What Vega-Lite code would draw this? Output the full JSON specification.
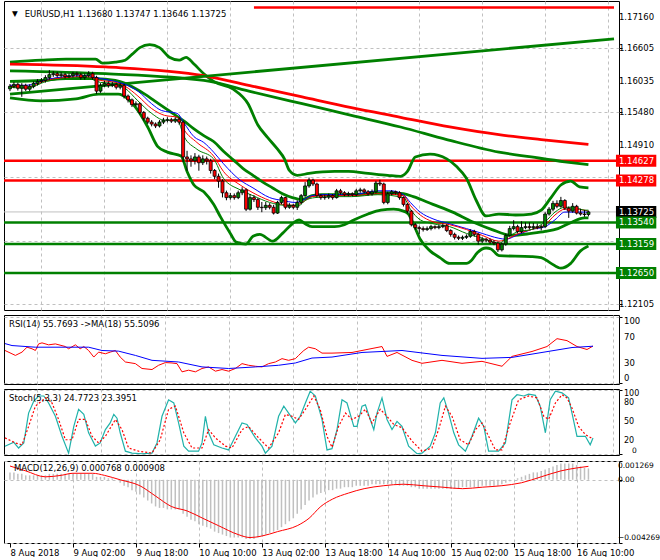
{
"$schema":"https://vega.github.io/schema/vega-lite/v6.json",
"background":"white",
"padding":{"left":2,"top":0,"right":0,"bottom":0},
"spacing":3,
"config":{
 "view":{"stroke":"#000000","strokeWidth":1},
 "axis":{"labelFont":"DejaVu Sans","labelFontSize":8.5,"labelColor":"#000000","gridColor":"#c0c0c0","gridDash":[3,3],"gridWidth":1,"tickColor":"#000000","tickSize":3,"labelPadding":3,"domain":false,"labelOverlap":false},
 "text":{"font":"DejaVu Sans","fontSize":8.5}
},
"datasets":{
 "c":[
{"i":0,"o":1.1589,"h":1.15975,"l":1.1585,"c":1.15935,"m":0.0005},
{"i":1,"o":1.15935,"h":1.1601,"l":1.159,"c":1.15969,"m":0.0005},
{"i":2,"o":1.15969,"h":1.16,"l":1.1586,"c":1.15901,"m":0.0004},
{"i":3,"o":1.15901,"h":1.1599,"l":1.1575,"c":1.15952,"m":0.0004},
{"i":4,"o":1.15952,"h":1.1598,"l":1.1585,"c":1.15884,"m":0.0003},
{"i":5,"o":1.15884,"h":1.1597,"l":1.1585,"c":1.15935,"m":0.0003},
{"i":6,"o":1.15935,"h":1.1602,"l":1.159,"c":1.15986,"m":0.0003},
{"i":7,"o":1.15986,"h":1.1606,"l":1.1595,"c":1.1602,"m":0.0003},
{"i":8,"o":1.1602,"h":1.1608,"l":1.1599,"c":1.16037,"m":0.0003},
{"i":9,"o":1.16037,"h":1.1613,"l":1.16,"c":1.16088,"m":0.0003},
{"i":10,"o":1.16088,"h":1.1622,"l":1.1605,"c":1.16139,"m":0.0004},
{"i":11,"o":1.16139,"h":1.162,"l":1.161,"c":1.16156,"m":0.0004},
{"i":12,"o":1.16156,"h":1.1619,"l":1.1609,"c":1.16122,"m":0.0004},
{"i":13,"o":1.16122,"h":1.1618,"l":1.1609,"c":1.16139,"m":0.0004},
{"i":14,"o":1.16139,"h":1.1617,"l":1.1607,"c":1.16105,"m":0.0004},
{"i":15,"o":1.16105,"h":1.1616,"l":1.1608,"c":1.16122,"m":0.0004},
{"i":16,"o":1.16122,"h":1.1619,"l":1.1609,"c":1.16156,"m":0.0004},
{"i":17,"o":1.16156,"h":1.1619,"l":1.161,"c":1.16139,"m":0.0004},
{"i":18,"o":1.16139,"h":1.1617,"l":1.1605,"c":1.16088,"m":0.0004},
{"i":19,"o":1.16088,"h":1.1616,"l":1.1605,"c":1.16122,"m":0.0004},
{"i":20,"o":1.16122,"h":1.162,"l":1.1609,"c":1.16156,"m":0.0004},
{"i":21,"o":1.16156,"h":1.1619,"l":1.1605,"c":1.16088,"m":0.0004},
{"i":22,"o":1.16088,"h":1.1612,"l":1.158,"c":1.1585,"m":0.0002},
{"i":23,"o":1.1585,"h":1.1599,"l":1.1582,"c":1.15952,"m":0.0002},
{"i":24,"o":1.15952,"h":1.1603,"l":1.1592,"c":1.15986,"m":0.0002},
{"i":25,"o":1.15986,"h":1.1602,"l":1.1591,"c":1.15952,"m":0.0001},
{"i":26,"o":1.15952,"h":1.1601,"l":1.1592,"c":1.15969,"m":0.0001},
{"i":27,"o":1.15969,"h":1.16,"l":1.1588,"c":1.15918,"m":0},
{"i":28,"o":1.15918,"h":1.1599,"l":1.1588,"c":1.15952,"m":-0.0002},
{"i":29,"o":1.15952,"h":1.1598,"l":1.1572,"c":1.15764,"m":-0.0004},
{"i":30,"o":1.15764,"h":1.1579,"l":1.1565,"c":1.15696,"m":-0.0005},
{"i":31,"o":1.15696,"h":1.1572,"l":1.1557,"c":1.15611,"m":-0.0007},
{"i":32,"o":1.15611,"h":1.1567,"l":1.1558,"c":1.15628,"m":-0.0008},
{"i":33,"o":1.15628,"h":1.1565,"l":1.1544,"c":1.15475,"m":-0.001},
{"i":34,"o":1.15475,"h":1.155,"l":1.1533,"c":1.15373,"m":-0.0012},
{"i":35,"o":1.15373,"h":1.154,"l":1.1527,"c":1.15305,"m":-0.0014},
{"i":36,"o":1.15305,"h":1.1534,"l":1.1523,"c":1.15271,"m":-0.0016},
{"i":37,"o":1.15271,"h":1.153,"l":1.152,"c":1.15237,"m":-0.0018},
{"i":38,"o":1.15237,"h":1.1534,"l":1.1521,"c":1.15305,"m":-0.0019},
{"i":39,"o":1.15305,"h":1.1538,"l":1.1527,"c":1.15339,"m":-0.0019},
{"i":40,"o":1.15339,"h":1.1539,"l":1.153,"c":1.15345,"m":-0.002},
{"i":41,"o":1.15345,"h":1.1538,"l":1.1529,"c":1.15322,"m":-0.002},
{"i":42,"o":1.15322,"h":1.1539,"l":1.1529,"c":1.15356,"m":-0.002},
{"i":43,"o":1.15356,"h":1.1539,"l":1.1526,"c":1.15305,"m":-0.002},
{"i":44,"o":1.15305,"h":1.1533,"l":1.146,"c":1.14692,"m":-0.0023},
{"i":45,"o":1.14692,"h":1.148,"l":1.1445,"c":1.14658,"m":-0.0025},
{"i":46,"o":1.14658,"h":1.1472,"l":1.1452,"c":1.14624,"m":-0.0027},
{"i":47,"o":1.14624,"h":1.1476,"l":1.1456,"c":1.14692,"m":-0.0028},
{"i":48,"o":1.14692,"h":1.1473,"l":1.1445,"c":1.1459,"m":-0.003},
{"i":49,"o":1.1459,"h":1.1472,"l":1.1455,"c":1.14658,"m":-0.0031},
{"i":50,"o":1.14658,"h":1.147,"l":1.1456,"c":1.14624,"m":-0.0032},
{"i":51,"o":1.14624,"h":1.1466,"l":1.144,"c":1.14454,"m":-0.0033},
{"i":52,"o":1.14454,"h":1.1448,"l":1.143,"c":1.14352,"m":-0.0035},
{"i":53,"o":1.14352,"h":1.144,"l":1.1415,"c":1.14267,"m":-0.0036},
{"i":54,"o":1.14267,"h":1.143,"l":1.1398,"c":1.14062,"m":-0.0037},
{"i":55,"o":1.14062,"h":1.141,"l":1.1393,"c":1.13977,"m":-0.0038},
{"i":56,"o":1.13977,"h":1.1406,"l":1.1394,"c":1.14011,"m":-0.0039},
{"i":57,"o":1.14011,"h":1.1405,"l":1.1394,"c":1.13977,"m":-0.0039},
{"i":58,"o":1.13977,"h":1.141,"l":1.1395,"c":1.14062,"m":-0.0039},
{"i":59,"o":1.14062,"h":1.1416,"l":1.1402,"c":1.14113,"m":-0.0039},
{"i":60,"o":1.14113,"h":1.1414,"l":1.1374,"c":1.13773,"m":-0.004},
{"i":61,"o":1.13773,"h":1.1404,"l":1.1375,"c":1.13977,"m":-0.004},
{"i":62,"o":1.13977,"h":1.1402,"l":1.139,"c":1.13943,"m":-0.004},
{"i":63,"o":1.13943,"h":1.1397,"l":1.1376,"c":1.13807,"m":-0.0039},
{"i":64,"o":1.13807,"h":1.139,"l":1.1372,"c":1.138,"m":-0.0038},
{"i":65,"o":1.138,"h":1.139,"l":1.1376,"c":1.13841,"m":-0.0037},
{"i":66,"o":1.13841,"h":1.1388,"l":1.1377,"c":1.13807,"m":-0.0036},
{"i":67,"o":1.13807,"h":1.1385,"l":1.1368,"c":1.13705,"m":-0.0035},
{"i":68,"o":1.13705,"h":1.1392,"l":1.1369,"c":1.13892,"m":-0.0034},
{"i":69,"o":1.13892,"h":1.1401,"l":1.1386,"c":1.13977,"m":-0.0032},
{"i":70,"o":1.13977,"h":1.1399,"l":1.1377,"c":1.13807,"m":-0.003},
{"i":71,"o":1.13807,"h":1.1388,"l":1.1378,"c":1.13841,"m":-0.0028},
{"i":72,"o":1.13841,"h":1.1387,"l":1.1377,"c":1.13807,"m":-0.0026},
{"i":73,"o":1.13807,"h":1.1393,"l":1.1376,"c":1.13892,"m":-0.0023},
{"i":74,"o":1.13892,"h":1.1404,"l":1.1386,"c":1.14011,"m":-0.002},
{"i":75,"o":1.14011,"h":1.1425,"l":1.1399,"c":1.14182,"m":-0.0017},
{"i":76,"o":1.14182,"h":1.1433,"l":1.1415,"c":1.14284,"m":-0.0014},
{"i":77,"o":1.14284,"h":1.1431,"l":1.1418,"c":1.14216,"m":-0.0012},
{"i":78,"o":1.14216,"h":1.1424,"l":1.1398,"c":1.14011,"m":-0.001},
{"i":79,"o":1.14011,"h":1.1404,"l":1.1394,"c":1.13977,"m":-0.0009},
{"i":80,"o":1.13977,"h":1.1403,"l":1.1394,"c":1.13985,"m":-0.0008},
{"i":81,"o":1.13985,"h":1.1405,"l":1.1395,"c":1.14011,"m":-0.0007},
{"i":82,"o":1.14011,"h":1.1404,"l":1.1394,"c":1.13977,"m":-0.0007},
{"i":83,"o":1.13977,"h":1.1413,"l":1.1396,"c":1.14096,"m":-0.0006},
{"i":84,"o":1.14096,"h":1.1413,"l":1.1403,"c":1.14062,"m":-0.0006},
{"i":85,"o":1.14062,"h":1.1409,"l":1.14,"c":1.14028,"m":-0.0005},
{"i":86,"o":1.14028,"h":1.1408,"l":1.14,"c":1.14045,"m":-0.0005},
{"i":87,"o":1.14045,"h":1.1407,"l":1.14,"c":1.14028,"m":-0.0005},
{"i":88,"o":1.14028,"h":1.1413,"l":1.14,"c":1.14096,"m":-0.0004},
{"i":89,"o":1.14096,"h":1.1415,"l":1.1406,"c":1.14113,"m":-0.0004},
{"i":90,"o":1.14113,"h":1.1414,"l":1.1405,"c":1.14079,"m":-0.0004},
{"i":91,"o":1.14079,"h":1.1411,"l":1.1401,"c":1.14045,"m":-0.0004},
{"i":92,"o":1.14045,"h":1.1412,"l":1.1401,"c":1.14079,"m":-0.0003},
{"i":93,"o":1.14079,"h":1.1427,"l":1.1405,"c":1.14233,"m":-0.0003},
{"i":94,"o":1.14233,"h":1.1429,"l":1.1418,"c":1.14216,"m":-0.0003},
{"i":95,"o":1.14216,"h":1.1424,"l":1.1386,"c":1.13892,"m":-0.0003},
{"i":96,"o":1.13892,"h":1.1408,"l":1.1386,"c":1.14045,"m":-0.0003},
{"i":97,"o":1.14045,"h":1.1411,"l":1.1402,"c":1.14079,"m":-0.0003},
{"i":98,"o":1.14079,"h":1.141,"l":1.1403,"c":1.14062,"m":-0.0003},
{"i":99,"o":1.14062,"h":1.1409,"l":1.1394,"c":1.13977,"m":-0.0004},
{"i":100,"o":1.13977,"h":1.14,"l":1.1382,"c":1.13858,"m":-0.0004},
{"i":101,"o":1.13858,"h":1.1388,"l":1.137,"c":1.13739,"m":-0.0004},
{"i":102,"o":1.13739,"h":1.1376,"l":1.1347,"c":1.135,"m":-0.0005},
{"i":103,"o":1.135,"h":1.1353,"l":1.1341,"c":1.13449,"m":-0.0005},
{"i":104,"o":1.13449,"h":1.1348,"l":1.1333,"c":1.13432,"m":-0.0006},
{"i":105,"o":1.13432,"h":1.1347,"l":1.1338,"c":1.13415,"m":-0.0006},
{"i":106,"o":1.13415,"h":1.1347,"l":1.1339,"c":1.13432,"m":-0.0006},
{"i":107,"o":1.13432,"h":1.135,"l":1.134,"c":1.13466,"m":-0.0006},
{"i":108,"o":1.13466,"h":1.1349,"l":1.1342,"c":1.13449,"m":-0.0006},
{"i":109,"o":1.13449,"h":1.135,"l":1.1342,"c":1.13466,"m":-0.0006},
{"i":110,"o":1.13466,"h":1.1352,"l":1.1344,"c":1.13483,"m":-0.0006},
{"i":111,"o":1.13483,"h":1.1351,"l":1.1337,"c":1.13398,"m":-0.0006},
{"i":112,"o":1.13398,"h":1.1342,"l":1.1329,"c":1.1333,"m":-0.0006},
{"i":113,"o":1.1333,"h":1.1336,"l":1.1324,"c":1.13279,"m":-0.0006},
{"i":114,"o":1.13279,"h":1.1331,"l":1.1323,"c":1.13262,"m":-0.0006},
{"i":115,"o":1.13262,"h":1.1331,"l":1.1323,"c":1.13279,"m":-0.0005},
{"i":116,"o":1.13279,"h":1.1333,"l":1.1325,"c":1.13296,"m":-0.0005},
{"i":117,"o":1.13296,"h":1.1342,"l":1.1327,"c":1.13381,"m":-0.0005},
{"i":118,"o":1.13381,"h":1.1341,"l":1.1329,"c":1.1333,"m":-0.0005},
{"i":119,"o":1.1333,"h":1.1335,"l":1.1315,"c":1.13211,"m":-0.0005},
{"i":120,"o":1.13211,"h":1.1328,"l":1.1318,"c":1.13245,"m":-0.0004},
{"i":121,"o":1.13245,"h":1.1327,"l":1.1319,"c":1.13228,"m":-0.0004},
{"i":122,"o":1.13228,"h":1.1326,"l":1.1316,"c":1.13194,"m":-0.0004},
{"i":123,"o":1.13194,"h":1.1323,"l":1.1314,"c":1.13177,"m":-0.0004},
{"i":124,"o":1.13177,"h":1.132,"l":1.1302,"c":1.13058,"m":-0.0004},
{"i":125,"o":1.13058,"h":1.1319,"l":1.1303,"c":1.1316,"m":-0.0003},
{"i":126,"o":1.1316,"h":1.1334,"l":1.1313,"c":1.13313,"m":-0.0002},
{"i":127,"o":1.13313,"h":1.1348,"l":1.1329,"c":1.13432,"m":-0.0001},
{"i":128,"o":1.13432,"h":1.1358,"l":1.134,"c":1.13466,"m":0},
{"i":129,"o":1.13466,"h":1.135,"l":1.1335,"c":1.13381,"m":0.0001},
{"i":130,"o":1.13381,"h":1.1356,"l":1.1335,"c":1.13449,"m":0.0002},
{"i":131,"o":1.13449,"h":1.1354,"l":1.1342,"c":1.13466,"m":0.0003},
{"i":132,"o":1.13466,"h":1.1354,"l":1.1342,"c":1.13449,"m":0.0004},
{"i":133,"o":1.13449,"h":1.1353,"l":1.1342,"c":1.13466,"m":0.0005},
{"i":134,"o":1.13466,"h":1.1352,"l":1.1342,"c":1.13449,"m":0.0005},
{"i":135,"o":1.13449,"h":1.135,"l":1.134,"c":1.13466,"m":0.0006},
{"i":136,"o":1.13466,"h":1.1372,"l":1.1344,"c":1.13688,"m":0.0007},
{"i":137,"o":1.13688,"h":1.1381,"l":1.1366,"c":1.13773,"m":0.0008},
{"i":138,"o":1.13773,"h":1.1392,"l":1.1374,"c":1.13875,"m":0.0009},
{"i":139,"o":1.13875,"h":1.1393,"l":1.1379,"c":1.13824,"m":0.001},
{"i":140,"o":1.13824,"h":1.1399,"l":1.138,"c":1.13926,"m":0.0011},
{"i":141,"o":1.13926,"h":1.1395,"l":1.1376,"c":1.1379,"m":0.0011},
{"i":142,"o":1.1379,"h":1.1382,"l":1.1362,"c":1.13739,"m":0.0011},
{"i":143,"o":1.13739,"h":1.1388,"l":1.1371,"c":1.13824,"m":0.0011},
{"i":144,"o":1.13824,"h":1.1385,"l":1.1368,"c":1.13705,"m":0.001},
{"i":145,"o":1.13705,"h":1.1378,"l":1.1366,"c":1.13688,"m":0.0009},
{"i":146,"o":1.13688,"h":1.1376,"l":1.1364,"c":1.1368,"m":0.0008},
{"i":147,"o":1.1368,"h":1.13747,"l":1.13646,"c":1.13725,"m":0.000768}
 ],
 "ind":[
{"s":"bbu","i":0,"v":1.1636},{"s":"bbu","i":8,"v":1.16394},{"s":"bbu","i":14.25,"v":1.16411},{"s":"bbu","i":21.75,"v":1.16411},{"s":"bbu","i":23.5,"v":1.16343},{"s":"bbu","i":26.75,"v":1.1636},{"s":"bbu","i":29.25,"v":1.16394},{"s":"bbu","i":31,"v":1.16496},{"s":"bbu","i":33,"v":1.16615},{"s":"bbu","i":35.5,"v":1.16666},{"s":"bbu","i":38,"v":1.16615},{"s":"bbu","i":40.5,"v":1.16445},{"s":"bbu","i":43,"v":1.16394},{"s":"bbu","i":44.75,"v":1.16445},{"s":"bbu","i":46.75,"v":1.16326},{"s":"bbu","i":49.25,"v":1.16156},{"s":"bbu","i":51.75,"v":1.1602},{"s":"bbu","i":56.75,"v":1.15883},{"s":"bbu","i":60.5,"v":1.15628},{"s":"bbu","i":63,"v":1.15253},{"s":"bbu","i":65.5,"v":1.15032},{"s":"bbu","i":68,"v":1.14828},{"s":"bbu","i":69.75,"v":1.14658},{"s":"bbu","i":71,"v":1.14454},{"s":"bbu","i":73,"v":1.14369},{"s":"bbu","i":76,"v":1.14403},{"s":"bbu","i":82.5,"v":1.14437},{"s":"bbu","i":86,"v":1.14437},{"s":"bbu","i":91,"v":1.14403},{"s":"bbu","i":96,"v":1.14369},{"s":"bbu","i":99.25,"v":1.14352},{"s":"bbu","i":101,"v":1.14437},{"s":"bbu","i":103,"v":1.14692},{"s":"bbu","i":106.75,"v":1.14742},{"s":"bbu","i":111,"v":1.14658},{"s":"bbu","i":113.5,"v":1.14522},{"s":"bbu","i":116,"v":1.14317},{"s":"bbu","i":118.5,"v":1.13926},{"s":"bbu","i":121,"v":1.13654},{"s":"bbu","i":124.25,"v":1.13688},{"s":"bbu","i":128.5,"v":1.13671},{"s":"bbu","i":132.5,"v":1.13688},{"s":"bbu","i":135,"v":1.13756},{"s":"bbu","i":137.5,"v":1.13977},{"s":"bbu","i":140,"v":1.14199},{"s":"bbu","i":142.5,"v":1.14267},{"s":"bbu","i":144.75,"v":1.14165},{"s":"bbu","i":147,"v":1.14148},
{"s":"bbm","i":0,"v":1.1602},{"s":"bbm","i":8,"v":1.16037},{"s":"bbm","i":14.25,"v":1.16071},{"s":"bbm","i":21.75,"v":1.16071},{"s":"bbm","i":26.75,"v":1.16037},{"s":"bbm","i":29.25,"v":1.15986},{"s":"bbm","i":31.75,"v":1.15901},{"s":"bbm","i":34.25,"v":1.15798},{"s":"bbm","i":36.75,"v":1.15679},{"s":"bbm","i":39.25,"v":1.1556},{"s":"bbm","i":41.75,"v":1.15441},{"s":"bbm","i":44.25,"v":1.15322},{"s":"bbm","i":46.75,"v":1.15185},{"s":"bbm","i":49.25,"v":1.15066},{"s":"bbm","i":51.75,"v":1.14964},{"s":"bbm","i":54.25,"v":1.14794},{"s":"bbm","i":56.75,"v":1.14641},{"s":"bbm","i":59.25,"v":1.14488},{"s":"bbm","i":61.75,"v":1.14369},{"s":"bbm","i":64.25,"v":1.1425},{"s":"bbm","i":66.75,"v":1.14147},{"s":"bbm","i":69.25,"v":1.14045},{"s":"bbm","i":71.75,"v":1.13977},{"s":"bbm","i":74.25,"v":1.13943},{"s":"bbm","i":76.75,"v":1.14011},{"s":"bbm","i":79.25,"v":1.14028},{"s":"bbm","i":86.75,"v":1.14028},{"s":"bbm","i":95,"v":1.14062},{"s":"bbm","i":100,"v":1.14045},{"s":"bbm","i":102.5,"v":1.13994},{"s":"bbm","i":107.5,"v":1.13858},{"s":"bbm","i":112.5,"v":1.13722},{"s":"bbm","i":117.5,"v":1.13552},{"s":"bbm","i":122.5,"v":1.13415},{"s":"bbm","i":127.5,"v":1.13313},{"s":"bbm","i":132.5,"v":1.13347},{"s":"bbm","i":136,"v":1.13381},{"s":"bbm","i":139.25,"v":1.13432},{"s":"bbm","i":142.5,"v":1.13535},{"s":"bbm","i":146,"v":1.1362},{"s":"bbm","i":147,"v":1.1362},
{"s":"bbl","i":0,"v":1.1573},{"s":"bbl","i":8,"v":1.15679},{"s":"bbl","i":16.75,"v":1.15713},{"s":"bbl","i":22.5,"v":1.15798},{"s":"bbl","i":27.5,"v":1.15798},{"s":"bbl","i":30,"v":1.15713},{"s":"bbl","i":32.5,"v":1.15509},{"s":"bbl","i":35,"v":1.15219},{"s":"bbl","i":37.5,"v":1.14879},{"s":"bbl","i":40,"v":1.14777},{"s":"bbl","i":43.5,"v":1.14708},{"s":"bbl","i":45,"v":1.14437},{"s":"bbl","i":46.75,"v":1.14199},{"s":"bbl","i":49.25,"v":1.14079},{"s":"bbl","i":51.75,"v":1.13858},{"s":"bbl","i":53.5,"v":1.13637},{"s":"bbl","i":56,"v":1.13347},{"s":"bbl","i":57.5,"v":1.13194},{"s":"bbl","i":60,"v":1.1316},{"s":"bbl","i":61.75,"v":1.13296},{"s":"bbl","i":63.5,"v":1.1333},{"s":"bbl","i":66.75,"v":1.13211},{"s":"bbl","i":69.25,"v":1.13347},{"s":"bbl","i":71.75,"v":1.13517},{"s":"bbl","i":73.5,"v":1.13586},{"s":"bbl","i":75,"v":1.13517},{"s":"bbl","i":76.75,"v":1.13466},{"s":"bbl","i":82.5,"v":1.13466},{"s":"bbl","i":85,"v":1.135},{"s":"bbl","i":87.5,"v":1.13586},{"s":"bbl","i":91,"v":1.13688},{"s":"bbl","i":94.25,"v":1.13756},{"s":"bbl","i":97.5,"v":1.13773},{"s":"bbl","i":100,"v":1.13739},{"s":"bbl","i":101.25,"v":1.13688},{"s":"bbl","i":102.5,"v":1.13517},{"s":"bbl","i":104.25,"v":1.13245},{"s":"bbl","i":106.75,"v":1.1304},{"s":"bbl","i":109.25,"v":1.12922},{"s":"bbl","i":111.75,"v":1.1282},{"s":"bbl","i":116,"v":1.1282},{"s":"bbl","i":117.25,"v":1.12871},{"s":"bbl","i":118.75,"v":1.13007},{"s":"bbl","i":121,"v":1.13091},{"s":"bbl","i":122.25,"v":1.13074},{"s":"bbl","i":124.25,"v":1.12956},{"s":"bbl","i":132.5,"v":1.12939},{"s":"bbl","i":135,"v":1.12922},{"s":"bbl","i":137.5,"v":1.1282},{"s":"bbl","i":140,"v":1.12735},{"s":"bbl","i":142.5,"v":1.1282},{"s":"bbl","i":145,"v":1.1304},{"s":"bbl","i":147,"v":1.13126},
{"s":"mar","i":0,"v":1.16326},{"s":"mar","i":24.25,"v":1.16275},{"s":"mar","i":49.25,"v":1.16122},{"s":"mar","i":61.75,"v":1.15935},{"s":"mar","i":74.25,"v":1.15747},{"s":"mar","i":86.75,"v":1.1556},{"s":"mar","i":99.25,"v":1.1539},{"s":"mar","i":111.75,"v":1.15219},{"s":"mar","i":124.25,"v":1.15083},{"s":"mar","i":135,"v":1.14998},{"s":"mar","i":147,"v":1.14913},
{"s":"mag","i":0,"v":1.16207},{"s":"mag","i":24.25,"v":1.16156},{"s":"mag","i":49.25,"v":1.16037},{"s":"mag","i":61.75,"v":1.15832},{"s":"mag","i":74.25,"v":1.15628},{"s":"mag","i":86.75,"v":1.15424},{"s":"mag","i":99.25,"v":1.15219},{"s":"mag","i":111,"v":1.14998},{"s":"mag","i":124.25,"v":1.14777},{"s":"mag","i":132.5,"v":1.14692},{"s":"mag","i":141,"v":1.14607},{"s":"mag","i":147,"v":1.14556},
{"s":"tl","i":0,"v":1.15798},{"s":"tl","i":153.5,"v":1.1677},
{"s":"mb","i":0,"v":1.15952},{"s":"mb","i":4.25,"v":1.15952},{"s":"mb","i":9.25,"v":1.16054},{"s":"mb","i":14.25,"v":1.16105},{"s":"mb","i":19.25,"v":1.16122},{"s":"mb","i":23,"v":1.16071},{"s":"mb","i":26.75,"v":1.1602},{"s":"mb","i":29.25,"v":1.15969},{"s":"mb","i":32.5,"v":1.1585},{"s":"mb","i":36,"v":1.15628},{"s":"mb","i":38.5,"v":1.15509},{"s":"mb","i":42.5,"v":1.15458},{"s":"mb","i":44.25,"v":1.15287},{"s":"mb","i":46.75,"v":1.15049},{"s":"mb","i":49.25,"v":1.14947},{"s":"mb","i":51.75,"v":1.14777},{"s":"mb","i":54.25,"v":1.14573},{"s":"mb","i":58.5,"v":1.14284},{"s":"mb","i":61.75,"v":1.14148},{"s":"mb","i":66,"v":1.13977},{"s":"mb","i":69.25,"v":1.13926},{"s":"mb","i":72.5,"v":1.13892},{"s":"mb","i":74.25,"v":1.13926},{"s":"mb","i":76.75,"v":1.14011},{"s":"mb","i":79.25,"v":1.14028},{"s":"mb","i":86.75,"v":1.14028},{"s":"mb","i":93.5,"v":1.14096},{"s":"mb","i":96.75,"v":1.14096},{"s":"mb","i":100,"v":1.14028},{"s":"mb","i":101.75,"v":1.13892},{"s":"mb","i":104.25,"v":1.13722},{"s":"mb","i":107.5,"v":1.13603},{"s":"mb","i":111.75,"v":1.13517},{"s":"mb","i":116,"v":1.13432},{"s":"mb","i":120,"v":1.13347},{"s":"mb","i":124.25,"v":1.13262},{"s":"mb","i":126,"v":1.13245},{"s":"mb","i":129.25,"v":1.1333},{"s":"mb","i":132.5,"v":1.13415},{"s":"mb","i":136,"v":1.13466},{"s":"mb","i":138.5,"v":1.13586},{"s":"mb","i":141,"v":1.13722},{"s":"mb","i":143.5,"v":1.13722},{"s":"mb","i":146,"v":1.13722},{"s":"mb","i":147,"v":1.13722},
{"s":"mr","i":0,"v":1.15935},{"s":"mr","i":4.25,"v":1.15918},{"s":"mr","i":9.25,"v":1.16037},{"s":"mr","i":14.25,"v":1.16088},{"s":"mr","i":19.25,"v":1.16105},{"s":"mr","i":23,"v":1.16037},{"s":"mr","i":26.75,"v":1.16003},{"s":"mr","i":29.25,"v":1.15935},{"s":"mr","i":32.5,"v":1.15764},{"s":"mr","i":36,"v":1.15543},{"s":"mr","i":39.25,"v":1.15424},{"s":"mr","i":42.5,"v":1.1539},{"s":"mr","i":44.25,"v":1.15168},{"s":"mr","i":47.5,"v":1.14947},{"s":"mr","i":51.75,"v":1.14708},{"s":"mr","i":54.25,"v":1.14437},{"s":"mr","i":58.5,"v":1.14199},{"s":"mr","i":61.75,"v":1.14062},{"s":"mr","i":66,"v":1.13926},{"s":"mr","i":69.25,"v":1.13858},{"s":"mr","i":72.5,"v":1.13841},{"s":"mr","i":74.25,"v":1.13892},{"s":"mr","i":76.75,"v":1.13994},{"s":"mr","i":79.25,"v":1.14011},{"s":"mr","i":86.75,"v":1.14011},{"s":"mr","i":93.5,"v":1.14045},{"s":"mr","i":100,"v":1.14011},{"s":"mr","i":101.75,"v":1.13841},{"s":"mr","i":104.25,"v":1.13671},{"s":"mr","i":107.5,"v":1.13552},{"s":"mr","i":111.75,"v":1.135},{"s":"mr","i":116,"v":1.13415},{"s":"mr","i":120,"v":1.13313},{"s":"mr","i":124.25,"v":1.13211},{"s":"mr","i":126.75,"v":1.13262},{"s":"mr","i":129.25,"v":1.13347},{"s":"mr","i":132.5,"v":1.13415},{"s":"mr","i":136,"v":1.135},{"s":"mr","i":138.5,"v":1.13671},{"s":"mr","i":141,"v":1.13773},{"s":"mr","i":143.5,"v":1.13773},{"s":"mr","i":146,"v":1.13756},{"s":"mr","i":147,"v":1.13739},
{"s":"mg","i":0,"v":1.15918},{"s":"mg","i":4.25,"v":1.15901},{"s":"mg","i":9.25,"v":1.1602},{"s":"mg","i":14.25,"v":1.16071},{"s":"mg","i":19.25,"v":1.16088},{"s":"mg","i":23,"v":1.16003},{"s":"mg","i":26.75,"v":1.15986},{"s":"mg","i":29.25,"v":1.15901},{"s":"mg","i":32.5,"v":1.15679},{"s":"mg","i":36,"v":1.15458},{"s":"mg","i":39.25,"v":1.15339},{"s":"mg","i":42.5,"v":1.15339},{"s":"mg","i":44.25,"v":1.15049},{"s":"mg","i":47.5,"v":1.14828},{"s":"mg","i":51.75,"v":1.14658},{"s":"mg","i":54.25,"v":1.14317},{"s":"mg","i":58.5,"v":1.14113},{"s":"mg","i":61.75,"v":1.14011},{"s":"mg","i":66,"v":1.13892},{"s":"mg","i":70,"v":1.13841},{"s":"mg","i":73.5,"v":1.13841},{"s":"mg","i":75,"v":1.13926},{"s":"mg","i":77.5,"v":1.13977},{"s":"mg","i":81.75,"v":1.13994},{"s":"mg","i":86.75,"v":1.13994},{"s":"mg","i":93.5,"v":1.14028},{"s":"mg","i":100,"v":1.13977},{"s":"mg","i":101.75,"v":1.13773},{"s":"mg","i":104.25,"v":1.13586},{"s":"mg","i":107.5,"v":1.13517},{"s":"mg","i":111.75,"v":1.13466},{"s":"mg","i":116,"v":1.13347},{"s":"mg","i":120,"v":1.13262},{"s":"mg","i":124.25,"v":1.13177},{"s":"mg","i":126.75,"v":1.13296},{"s":"mg","i":129.25,"v":1.13381},{"s":"mg","i":132.5,"v":1.13415},{"s":"mg","i":136,"v":1.13552},{"s":"mg","i":138.5,"v":1.13722},{"s":"mg","i":141,"v":1.13807},{"s":"mg","i":143.5,"v":1.13807},{"s":"mg","i":146,"v":1.13756},{"s":"mg","i":147,"v":1.13756}
 ],
 "lev":[{"p":1.14627,"t":"r"},{"p":1.14278,"t":"r"},{"p":1.1354,"t":"g"},{"p":1.13159,"t":"g"},{"p":1.1265,"t":"g"}],
 "cur":[{"p":1.13725}],
 "seg":[{"i0":62,"i1":153.5,"p":1.1732}],
 "tag":[{"p":1.14627,"t":"r"},{"p":1.14278,"t":"r"},{"p":1.13725,"t":"k"},{"p":1.1354,"t":"g"},{"p":1.13159,"t":"g"},{"p":1.1265,"t":"g"}],
 "ylab":[{"p":1.1716},{"p":1.16605},{"p":1.16035},{"p":1.1548},{"p":1.1491},{"p":1.12105}],
 "rlab":[{"v":100},{"v":70},{"v":30},{"v":0}],
 "slab":[{"v":100},{"v":80},{"v":50},{"v":20},{"v":0}],
 "mlab":[{"v":0.001269},{"v":0},{"v":-0.004269}],
 "osc":[
{"s":"rsi","i":0,"v":49},{"s":"rsi","i":2.6,"v":41.5},{"s":"rsi","i":4.25,"v":46.5},{"s":"rsi","i":5.5,"v":54},{"s":"rsi","i":6.75,"v":51.6},{"s":"rsi","i":7.6,"v":49},{"s":"rsi","i":8.4,"v":59},{"s":"rsi","i":9.25,"v":60.6},{"s":"rsi","i":10.9,"v":57.6},{"s":"rsi","i":12.6,"v":59},{"s":"rsi","i":15.1,"v":55},{"s":"rsi","i":15.9,"v":51.6},{"s":"rsi","i":17.6,"v":57.6},{"s":"rsi","i":18.8,"v":51.6},{"s":"rsi","i":19.7,"v":55},{"s":"rsi","i":20.9,"v":49},{"s":"rsi","i":22.2,"v":39},{"s":"rsi","i":23.4,"v":46.5},{"s":"rsi","i":25.1,"v":44},{"s":"rsi","i":26.3,"v":46.5},{"s":"rsi","i":27.6,"v":49},{"s":"rsi","i":28.8,"v":39},{"s":"rsi","i":30.1,"v":31.5},{"s":"rsi","i":32.6,"v":29},{"s":"rsi","i":34.25,"v":21.6},{"s":"rsi","i":36.75,"v":20},{"s":"rsi","i":38.4,"v":26.5},{"s":"rsi","i":40.1,"v":30.6},{"s":"rsi","i":41.75,"v":30},{"s":"rsi","i":43,"v":29},{"s":"rsi","i":44.25,"v":16.5},{"s":"rsi","i":45.9,"v":19},{"s":"rsi","i":47.6,"v":16.5},{"s":"rsi","i":49.25,"v":21.6},{"s":"rsi","i":50.9,"v":24},{"s":"rsi","i":52.6,"v":17.5},{"s":"rsi","i":54.25,"v":20},{"s":"rsi","i":55.9,"v":17.5},{"s":"rsi","i":57.6,"v":21.6},{"s":"rsi","i":59.25,"v":29},{"s":"rsi","i":60.9,"v":26.5},{"s":"rsi","i":62.6,"v":25},{"s":"rsi","i":64.25,"v":24},{"s":"rsi","i":65.9,"v":29},{"s":"rsi","i":67.6,"v":31.5},{"s":"rsi","i":69.25,"v":36.6},{"s":"rsi","i":70.9,"v":34},{"s":"rsi","i":72.6,"v":36.6},{"s":"rsi","i":73.4,"v":41.5},{"s":"rsi","i":74.7,"v":49},{"s":"rsi","i":75.9,"v":54},{"s":"rsi","i":77.6,"v":51.6},{"s":"rsi","i":79.25,"v":45},{"s":"rsi","i":81.75,"v":45},{"s":"rsi","i":86.75,"v":46},{"s":"rsi","i":91.75,"v":52},{"s":"rsi","i":94.25,"v":55},{"s":"rsi","i":95.5,"v":40},{"s":"rsi","i":98,"v":46},{"s":"rsi","i":101.75,"v":34},{"s":"rsi","i":104.25,"v":29.5},{"s":"rsi","i":109.25,"v":34},{"s":"rsi","i":114.25,"v":29.5},{"s":"rsi","i":119.25,"v":32.5},{"s":"rsi","i":124.25,"v":25},{"s":"rsi","i":126.75,"v":40},{"s":"rsi","i":131.75,"v":47.5},{"s":"rsi","i":135.5,"v":55},{"s":"rsi","i":138,"v":67},{"s":"rsi","i":140.5,"v":64},{"s":"rsi","i":143,"v":55},{"s":"rsi","i":145.5,"v":50.5},{"s":"rsi","i":147,"v":55.77},
{"s":"rma","i":0,"v":59.5},{"s":"rma","i":1.75,"v":56.5},{"s":"rma","i":7.6,"v":54},{"s":"rma","i":20.9,"v":54},{"s":"rma","i":24.25,"v":49},{"s":"rma","i":28.4,"v":48},{"s":"rma","i":32.6,"v":41.5},{"s":"rma","i":36.75,"v":34},{"s":"rma","i":43.4,"v":31.5},{"s":"rma","i":49.25,"v":24},{"s":"rma","i":55.9,"v":21.6},{"s":"rma","i":62.6,"v":24},{"s":"rma","i":68.4,"v":26.5},{"s":"rma","i":72.6,"v":30},{"s":"rma","i":76.75,"v":37.5},{"s":"rma","i":81.75,"v":39},{"s":"rma","i":89.25,"v":46},{"s":"rma","i":99.25,"v":49},{"s":"rma","i":109.25,"v":41.5},{"s":"rma","i":119.25,"v":37},{"s":"rma","i":126.75,"v":38.5},{"s":"rma","i":134.25,"v":46},{"s":"rma","i":141.75,"v":53.5},{"s":"rma","i":147,"v":55.51},
{"s":"st","i":0,"v":11.7},{"s":"st","i":2.2,"v":18},{"s":"st","i":3.4,"v":9},{"s":"st","i":4.7,"v":17},{"s":"st","i":5.9,"v":64},{"s":"st","i":7.2,"v":83},{"s":"st","i":8.4,"v":91},{"s":"st","i":9.7,"v":91},{"s":"st","i":10.9,"v":80},{"s":"st","i":12.6,"v":59},{"s":"st","i":14.25,"v":27.5},{"s":"st","i":15.9,"v":1},{"s":"st","i":17.2,"v":43},{"s":"st","i":18.4,"v":70},{"s":"st","i":19.7,"v":62},{"s":"st","i":20.9,"v":33},{"s":"st","i":22.6,"v":12},{"s":"st","i":23.8,"v":17},{"s":"st","i":25.1,"v":38},{"s":"st","i":26.3,"v":48.5},{"s":"st","i":27.2,"v":62},{"s":"st","i":28,"v":56},{"s":"st","i":28.8,"v":33},{"s":"st","i":30.1,"v":4},{"s":"st","i":31.75,"v":1},{"s":"st","i":34.25,"v":0},{"s":"st","i":36.75,"v":1},{"s":"st","i":38,"v":17},{"s":"st","i":39.25,"v":59},{"s":"st","i":40.9,"v":85},{"s":"st","i":42.2,"v":80},{"s":"st","i":43.4,"v":48.5},{"s":"st","i":44.7,"v":12},{"s":"st","i":45.9,"v":4},{"s":"st","i":48.4,"v":4},{"s":"st","i":49.25,"v":17},{"s":"st","i":50.1,"v":59},{"s":"st","i":50.9,"v":33},{"s":"st","i":52.2,"v":14},{"s":"st","i":54.25,"v":9},{"s":"st","i":55.9,"v":6},{"s":"st","i":57.6,"v":27.5},{"s":"st","i":59.25,"v":48.5},{"s":"st","i":60.5,"v":46},{"s":"st","i":62.6,"v":25},{"s":"st","i":64.25,"v":12},{"s":"st","i":65.1,"v":1},{"s":"st","i":66.75,"v":12},{"s":"st","i":68.4,"v":59},{"s":"st","i":69.7,"v":75},{"s":"st","i":70.9,"v":64},{"s":"st","i":72.6,"v":48.5},{"s":"st","i":73.8,"v":59},{"s":"st","i":75.1,"v":80},{"s":"st","i":76.3,"v":98.6},{"s":"st","i":77.6,"v":91},{"s":"st","i":79.25,"v":54},{"s":"st","i":80.5,"v":6},{"s":"st","i":81.75,"v":8},{"s":"st","i":83,"v":38},{"s":"st","i":84.25,"v":85},{"s":"st","i":85.5,"v":80},{"s":"st","i":87.2,"v":43},{"s":"st","i":88,"v":43},{"s":"st","i":89.25,"v":75},{"s":"st","i":90.1,"v":77},{"s":"st","i":91.3,"v":54},{"s":"st","i":92.2,"v":38},{"s":"st","i":93,"v":64},{"s":"st","i":94.25,"v":88},{"s":"st","i":95.5,"v":54},{"s":"st","i":96.75,"v":38},{"s":"st","i":98,"v":51},{"s":"st","i":99.25,"v":43},{"s":"st","i":100.9,"v":12},{"s":"st","i":103,"v":0},{"s":"st","i":104.25,"v":1},{"s":"st","i":106.3,"v":12},{"s":"st","i":107.6,"v":33},{"s":"st","i":108.8,"v":80},{"s":"st","i":109.7,"v":88},{"s":"st","i":110.9,"v":64},{"s":"st","i":112.2,"v":33},{"s":"st","i":113.4,"v":14},{"s":"st","i":115.1,"v":4},{"s":"st","i":116.75,"v":27.5},{"s":"st","i":118.4,"v":56},{"s":"st","i":119.7,"v":43},{"s":"st","i":120.9,"v":4},{"s":"st","i":123.4,"v":4},{"s":"st","i":125.1,"v":17},{"s":"st","i":126.75,"v":85},{"s":"st","i":128,"v":93},{"s":"st","i":129.7,"v":91},{"s":"st","i":130.9,"v":94},{"s":"st","i":132.6,"v":92},{"s":"st","i":133.8,"v":75},{"s":"st","i":135.1,"v":33},{"s":"st","i":136.3,"v":85},{"s":"st","i":137.6,"v":98.6},{"s":"st","i":139.25,"v":96},{"s":"st","i":140.9,"v":88},{"s":"st","i":141.75,"v":64},{"s":"st","i":143,"v":27.5},{"s":"st","i":145.1,"v":27.5},{"s":"st","i":146.3,"v":14},{"s":"st","i":147,"v":24.77},
{"s":"sg","i":0,"v":25},{"s":"sg","i":2.6,"v":17},{"s":"sg","i":4.25,"v":14},{"s":"sg","i":5.9,"v":43},{"s":"sg","i":7.6,"v":75},{"s":"sg","i":10.1,"v":88},{"s":"sg","i":11.75,"v":80},{"s":"sg","i":13.4,"v":54},{"s":"sg","i":15.1,"v":22},{"s":"sg","i":16.75,"v":22},{"s":"sg","i":18.4,"v":54},{"s":"sg","i":20.1,"v":54},{"s":"sg","i":21.75,"v":27.5},{"s":"sg","i":23.4,"v":17},{"s":"sg","i":25.1,"v":27.5},{"s":"sg","i":27.6,"v":54},{"s":"sg","i":29.25,"v":38},{"s":"sg","i":30.9,"v":9},{"s":"sg","i":33.4,"v":4},{"s":"sg","i":36.75,"v":1},{"s":"sg","i":38.8,"v":22},{"s":"sg","i":40.9,"v":70},{"s":"sg","i":42.6,"v":75},{"s":"sg","i":44.7,"v":33},{"s":"sg","i":46.75,"v":9},{"s":"sg","i":49.25,"v":9},{"s":"sg","i":50.9,"v":38},{"s":"sg","i":52.6,"v":25},{"s":"sg","i":55.1,"v":12},{"s":"sg","i":56.75,"v":9},{"s":"sg","i":59.25,"v":38},{"s":"sg","i":60.9,"v":43},{"s":"sg","i":63.4,"v":25},{"s":"sg","i":65.9,"v":9},{"s":"sg","i":68.4,"v":33},{"s":"sg","i":70.1,"v":62},{"s":"sg","i":71.75,"v":59},{"s":"sg","i":73.4,"v":54},{"s":"sg","i":75.1,"v":70},{"s":"sg","i":77.2,"v":91},{"s":"sg","i":78.8,"v":70},{"s":"sg","i":80.5,"v":27.5},{"s":"sg","i":81.75,"v":10},{"s":"sg","i":83.4,"v":43},{"s":"sg","i":85.1,"v":64},{"s":"sg","i":86.75,"v":54},{"s":"sg","i":88.4,"v":59},{"s":"sg","i":90.1,"v":70},{"s":"sg","i":91.75,"v":48.5},{"s":"sg","i":93.8,"v":70},{"s":"sg","i":95.5,"v":59},{"s":"sg","i":97.2,"v":46},{"s":"sg","i":99.25,"v":41},{"s":"sg","i":101.75,"v":20},{"s":"sg","i":104.25,"v":4},{"s":"sg","i":106.75,"v":9},{"s":"sg","i":108.4,"v":38},{"s":"sg","i":110.1,"v":75},{"s":"sg","i":111.75,"v":59},{"s":"sg","i":113.8,"v":22},{"s":"sg","i":115.9,"v":14},{"s":"sg","i":117.6,"v":38},{"s":"sg","i":119.25,"v":48.5},{"s":"sg","i":120.9,"v":27.5},{"s":"sg","i":122.6,"v":6},{"s":"sg","i":124.25,"v":6},{"s":"sg","i":126.3,"v":48.5},{"s":"sg","i":128.4,"v":85},{"s":"sg","i":130.9,"v":91},{"s":"sg","i":133,"v":88},{"s":"sg","i":134.7,"v":59},{"s":"sg","i":135.9,"v":54},{"s":"sg","i":137.6,"v":80},{"s":"sg","i":139.25,"v":93},{"s":"sg","i":140.5,"v":88},{"s":"sg","i":141.75,"v":72},{"s":"sg","i":143.4,"v":43},{"s":"sg","i":145.1,"v":30},{"s":"sg","i":147,"v":23.4},
{"s":"ms","i":0,"v":0.00093},{"s":"ms","i":4,"v":0.0006},{"s":"ms","i":9,"v":0.0002},{"s":"ms","i":13,"v":0.0003},{"s":"ms","i":16,"v":0.00044},{"s":"ms","i":21,"v":0.00044},{"s":"ms","i":24,"v":0.0003},{"s":"ms","i":28,"v":0},{"s":"ms","i":33,"v":-0.0004},{"s":"ms","i":37,"v":-0.0011},{"s":"ms","i":41,"v":-0.0018},{"s":"ms","i":45,"v":-0.0021},{"s":"ms","i":49,"v":-0.0026},{"s":"ms","i":53,"v":-0.0031},{"s":"ms","i":58,"v":-0.0037},{"s":"ms","i":61,"v":-0.0039},{"s":"ms","i":64,"v":-0.0038},{"s":"ms","i":68,"v":-0.0035},{"s":"ms","i":73,"v":-0.0031},{"s":"ms","i":76,"v":-0.0026},{"s":"ms","i":79,"v":-0.0018},{"s":"ms","i":82,"v":-0.0013},{"s":"ms","i":86,"v":-0.0009},{"s":"ms","i":90,"v":-0.0006},{"s":"ms","i":95,"v":-0.0004},{"s":"ms","i":100,"v":-0.0003},{"s":"ms","i":105,"v":-0.0004},{"s":"ms","i":110,"v":-0.0005},{"s":"ms","i":115,"v":-0.0006},{"s":"ms","i":120,"v":-0.0005},{"s":"ms","i":125,"v":-0.0004},{"s":"ms","i":130,"v":-0.0002},{"s":"ms","i":135,"v":0.0002},{"s":"ms","i":140,"v":0.0006},{"s":"ms","i":144,"v":0.0008},{"s":"ms","i":147,"v":0.000908}
 ]
},
"vconcat":[
 {
  "width":615,"height":309,
  "layer":[
   {"data":{"name":"c"},"mark":{"type":"rule","opacity":0},
    "encoding":{"x":{"field":"i","type":"quantitative","scale":{"domain":[-0.25,153.5],"nice":false,"zero":false},"axis":{"values":[8,16,24,32,40,48,56,64,72,80,88,96,104,112,120,128,136,144,152],"grid":true,"labels":false,"ticks":false,"title":null,"minExtent":0,"maxExtent":0}},
     "y":{"field":"c","type":"quantitative","scale":{"domain":[1.12088,1.17347],"nice":false,"zero":false},"axis":{"orient":"right","values":[1.1716,1.16605,1.16035,1.1548,1.1491,1.1434,1.13785,1.13215,1.1266,1.12105],"grid":true,"labels":false,"title":null,"minExtent":0}}}},
   {"data":{"name":"cur"},"mark":{"type":"rule","color":"#c0c0c0","strokeWidth":1},
    "encoding":{"y":{"field":"p","type":"quantitative","scale":{"domain":[1.12088,1.17347],"nice":false,"zero":false}}}},
   {"data":{"name":"lev"},"mark":{"type":"rule","strokeWidth":2.5},
    "encoding":{"y":{"field":"p","type":"quantitative","scale":{"domain":[1.12088,1.17347],"nice":false,"zero":false}},
     "color":{"condition":{"test":"datum.t=='r'","value":"#ff0000"},"value":"#008000"}}},
   {"data":{"name":"seg"},"mark":{"type":"rule","strokeWidth":2.5,"color":"#ff0000"},
    "encoding":{"x":{"field":"i0","type":"quantitative","scale":{"domain":[-0.25,153.5],"nice":false,"zero":false}},"x2":{"field":"i1"},
     "y":{"field":"p","type":"quantitative","scale":{"domain":[1.12088,1.17347],"nice":false,"zero":false}}}},
   {"data":{"name":"ind"},"mark":{"type":"line","interpolate":"monotone"},
    "encoding":{"x":{"field":"i","type":"quantitative","scale":{"domain":[-0.25,153.5],"nice":false,"zero":false}},
     "y":{"field":"v","type":"quantitative","scale":{"domain":[1.12088,1.17347],"nice":false,"zero":false}},
     "color":{"field":"s","type":"nominal","scale":{"domain":["bbu","bbm","bbl","mag","tl","mar","mg","mr","mb"],"range":["#008000","#008000","#008000","#008000","#008000","#ff0000","#008000","#ff0000","#0000ff"]},"legend":null},
     "strokeWidth":{"condition":{"test":"indexof(['mb','mr','mg'], datum.s) >= 0","value":1},"value":2.8}}},
   {"data":{"name":"c"},"mark":{"type":"rule","color":"#000000","strokeWidth":1},
    "encoding":{"x":{"field":"i","type":"quantitative","scale":{"domain":[-0.25,153.5],"nice":false,"zero":false}},
     "y":{"field":"l","type":"quantitative","scale":{"domain":[1.12088,1.17347],"nice":false,"zero":false}},"y2":{"field":"h"}}},
   {"data":{"name":"c"},"mark":{"type":"bar","width":3,"stroke":"#000000","strokeWidth":0.8},
    "encoding":{"x":{"field":"i","type":"quantitative","scale":{"domain":[-0.25,153.5],"nice":false,"zero":false}},
     "y":{"field":"o","type":"quantitative","scale":{"domain":[1.12088,1.17347],"nice":false,"zero":false}},"y2":{"field":"c"},
     "fill":{"condition":{"test":"datum.c >= datum.o","value":"#008000"},"value":"#ff0000"}}},
   {"data":{"name":"ylab"},"mark":{"type":"text","align":"left","baseline":"middle","color":"#000000","fontSize":8.5},
    "encoding":{"x":{"datum":154.75,"type":"quantitative","scale":{"domain":[-0.25,153.5],"nice":false,"zero":false}},
     "y":{"field":"p","type":"quantitative","scale":{"domain":[1.12088,1.17347],"nice":false,"zero":false}},
     "text":{"field":"p","type":"quantitative","format":".5f"}}},
   {"data":{"name":"tag"},"mark":{"type":"bar","height":12},
    "encoding":{"x":{"datum":154,"type":"quantitative","scale":{"domain":[-0.25,153.5],"nice":false,"zero":false}},"x2":{"datum":164.25},
     "y":{"field":"p","type":"quantitative","scale":{"domain":[1.12088,1.17347],"nice":false,"zero":false}},
     "color":{"condition":[{"test":"datum.t=='r'","value":"#ff0000"},{"test":"datum.t=='k'","value":"#000000"}],"value":"#008000"}}},
   {"data":{"name":"tag"},"mark":{"type":"text","align":"left","baseline":"middle","color":"#ffffff","fontSize":8.5},
    "encoding":{"x":{"datum":154.75,"type":"quantitative","scale":{"domain":[-0.25,153.5],"nice":false,"zero":false}},
     "y":{"field":"p","type":"quantitative","scale":{"domain":[1.12088,1.17347],"nice":false,"zero":false}},
     "text":{"field":"p","type":"quantitative","format":".5f"}}},
   {"data":{"values":[{}]},"mark":{"type":"text","align":"left","baseline":"middle","color":"#000000","fontSize":7.5},
    "encoding":{"x":{"datum":0.5,"type":"quantitative","scale":{"domain":[-0.25,153.5],"nice":false,"zero":false}},
     "y":{"datum":1.1721,"type":"quantitative","scale":{"domain":[1.12088,1.17347],"nice":false,"zero":false}},
     "text":{"value":"▼"}}},
   {"data":{"values":[{}]},"mark":{"type":"text","align":"left","baseline":"middle","color":"#000000","fontSize":8.5},
    "encoding":{"x":{"datum":3.75,"type":"quantitative","scale":{"domain":[-0.25,153.5],"nice":false,"zero":false}},
     "y":{"datum":1.1721,"type":"quantitative","scale":{"domain":[1.12088,1.17347],"nice":false,"zero":false}},
     "text":{"value":"EURUSD,H1  1.13680 1.13747 1.13646 1.13725"}}}
  ]
 },
 {
  "width":615,"height":69,
  "layer":[
   {"data":{"name":"osc"},"transform":[{"filter":"datum.s=='rsi'"}],"mark":{"type":"line","color":"#ff0000","strokeWidth":1},
    "encoding":{"x":{"field":"i","type":"quantitative","scale":{"domain":[-0.25,153.5],"nice":false,"zero":false},"axis":{"values":[8,16,24,32,40,48,56,64,72,80,88,96,104,112,120,128,136,144,152],"grid":true,"labels":false,"ticks":false,"title":null,"minExtent":0,"maxExtent":0}},
     "y":{"field":"v","type":"quantitative","scale":{"domain":[-2,103],"nice":false,"zero":false},"axis":{"orient":"right","values":[0,30,70,100],"grid":true,"labels":false,"title":null,"minExtent":0}}}},
   {"data":{"name":"osc"},"transform":[{"filter":"datum.s=='rma'"}],"mark":{"type":"line","color":"#0000ff","strokeWidth":1},
    "encoding":{"x":{"field":"i","type":"quantitative","scale":{"domain":[-0.25,153.5],"nice":false,"zero":false}},
     "y":{"field":"v","type":"quantitative","scale":{"domain":[-2,103],"nice":false,"zero":false}}}},
   {"data":{"name":"rlab"},"transform":[{"filter":"datum.v > 0 && datum.v < 100"}],"mark":{"type":"text","align":"left","baseline":"middle","color":"#000000","fontSize":8.5},
    "encoding":{"x":{"datum":154.75,"type":"quantitative","scale":{"domain":[-0.25,153.5],"nice":false,"zero":false}},
     "y":{"field":"v","type":"quantitative","scale":{"domain":[-2,103],"nice":false,"zero":false}},
     "text":{"field":"v","type":"quantitative"}}},
   {"data":{"name":"rlab"},"transform":[{"filter":"datum.v == 100"}],"mark":{"type":"text","align":"left","baseline":"top","color":"#000000","fontSize":8.5},
    "encoding":{"x":{"datum":154.75,"type":"quantitative","scale":{"domain":[-0.25,153.5],"nice":false,"zero":false}},
     "y":{"field":"v","type":"quantitative","scale":{"domain":[-2,103],"nice":false,"zero":false}},
     "text":{"field":"v","type":"quantitative"}}},
   {"data":{"name":"rlab"},"transform":[{"filter":"datum.v == 0"}],"mark":{"type":"text","align":"left","baseline":"bottom","color":"#000000","fontSize":8.5},
    "encoding":{"x":{"datum":154.75,"type":"quantitative","scale":{"domain":[-0.25,153.5],"nice":false,"zero":false}},
     "y":{"field":"v","type":"quantitative","scale":{"domain":[-2,103],"nice":false,"zero":false}},
     "text":{"field":"v","type":"quantitative"}}},
   {"data":{"values":[{}]},"mark":{"type":"text","align":"left","baseline":"middle","color":"#000000","fontSize":8.5},
    "encoding":{"x":{"datum":1,"type":"quantitative","scale":{"domain":[-0.25,153.5],"nice":false,"zero":false}},
     "y":{"datum":89,"type":"quantitative","scale":{"domain":[-2,103],"nice":false,"zero":false}},
     "text":{"value":"RSI(14) 55.7693  ->MA(18) 55.5096"}}}
  ]
 },
 {
  "width":615,"height":66,
  "layer":[
   {"data":{"name":"osc"},"transform":[{"filter":"datum.s=='st'"}],"mark":{"type":"line","color":"#20b2aa","strokeWidth":1.2},
    "encoding":{"x":{"field":"i","type":"quantitative","scale":{"domain":[-0.25,153.5],"nice":false,"zero":false},"axis":{"values":[8,16,24,32,40,48,56,64,72,80,88,96,104,112,120,128,136,144,152],"grid":true,"labels":false,"ticks":false,"title":null,"minExtent":0,"maxExtent":0}},
     "y":{"field":"v","type":"quantitative","scale":{"domain":[-2,102],"nice":false,"zero":false},"axis":{"orient":"right","values":[0,20,50,80,100],"grid":true,"labels":false,"title":null,"minExtent":0}}}},
   {"data":{"name":"osc"},"transform":[{"filter":"datum.s=='sg'"}],"mark":{"type":"line","color":"#ff0000","strokeWidth":1.2,"strokeDash":[2,2]},
    "encoding":{"x":{"field":"i","type":"quantitative","scale":{"domain":[-0.25,153.5],"nice":false,"zero":false}},
     "y":{"field":"v","type":"quantitative","scale":{"domain":[-2,102],"nice":false,"zero":false}}}},
   {"data":{"name":"slab"},"transform":[{"filter":"datum.v > 0 && datum.v < 100"}],"mark":{"type":"text","align":"left","baseline":"middle","color":"#000000","fontSize":8},
    "encoding":{"x":{"datum":154.75,"type":"quantitative","scale":{"domain":[-0.25,153.5],"nice":false,"zero":false}},
     "y":{"field":"v","type":"quantitative","scale":{"domain":[-2,102],"nice":false,"zero":false}},
     "text":{"field":"v","type":"quantitative"}}},
   {"data":{"name":"slab"},"transform":[{"filter":"datum.v == 100"}],"mark":{"type":"text","align":"left","baseline":"top","color":"#000000","fontSize":8},
    "encoding":{"x":{"datum":154.75,"type":"quantitative","scale":{"domain":[-0.25,153.5],"nice":false,"zero":false}},
     "y":{"field":"v","type":"quantitative","scale":{"domain":[-2,102],"nice":false,"zero":false}},
     "text":{"field":"v","type":"quantitative"}}},
   {"data":{"name":"slab"},"transform":[{"filter":"datum.v == 0"}],"mark":{"type":"text","align":"left","baseline":"bottom","color":"#000000","fontSize":7.5,"dx":8,"dy":1.5},
    "encoding":{"x":{"datum":154.75,"type":"quantitative","scale":{"domain":[-0.25,153.5],"nice":false,"zero":false}},
     "y":{"field":"v","type":"quantitative","scale":{"domain":[-2,102],"nice":false,"zero":false}},
     "text":{"field":"v","type":"quantitative"}}},
   {"data":{"values":[{}]},"mark":{"type":"text","align":"left","baseline":"middle","color":"#000000","fontSize":8.5},
    "encoding":{"x":{"datum":1,"type":"quantitative","scale":{"domain":[-0.25,153.5],"nice":false,"zero":false}},
     "y":{"datum":88,"type":"quantitative","scale":{"domain":[-2,102],"nice":false,"zero":false}},
     "text":{"value":"Stoch(5,3,3) 24.7723 23.3951"}}}
  ]
 },
 {
  "width":615,"height":82,
  "layer":[
   {"data":{"name":"c"},"mark":{"type":"bar","width":1.5,"color":"#c0c0c0"},
    "encoding":{"x":{"field":"i","type":"quantitative","scale":{"domain":[-0.25,153.5],"nice":false,"zero":false},
      "axis":{"values":[0,8,16,24,32,40,48,56,64,72,80,88,96,104,112,120,128,136,144,152],"grid":true,"gridOpacity":{"condition":{"test":"datum.value==0","value":0},"value":1},"tickSize":4,"labelAlign":"left","labelFlush":false,"labelOverlap":false,"labelPadding":1,"title":null,
       "labelExpr":"datum.value % 16 === 0 ? ['8 Aug 2018','9 Aug 02:00','9 Aug 18:00','10 Aug 10:00','13 Aug 02:00','13 Aug 18:00','14 Aug 10:00','15 Aug 02:00','15 Aug 18:00','16 Aug 10:00'][datum.value/16] : ''"}},
     "y":{"field":"m","type":"quantitative","scale":{"domain":[-0.004269,0.001269],"nice":false,"zero":false},
      "axis":{"orient":"right","values":[-0.004269,0,0.001269],"grid":true,"labels":false,"title":null,"minExtent":0}},
     "y2":{"datum":0}}},
   {"data":{"name":"osc"},"transform":[{"filter":"datum.s=='ms'"}],"mark":{"type":"line","color":"#ff0000","strokeWidth":1,"interpolate":"monotone"},
    "encoding":{"x":{"field":"i","type":"quantitative","scale":{"domain":[-0.25,153.5],"nice":false,"zero":false}},
     "y":{"field":"v","type":"quantitative","scale":{"domain":[-0.004269,0.001269],"nice":false,"zero":false}}}},
   {"data":{"name":"mlab"},"transform":[{"filter":"datum.v > 0"}],"mark":{"type":"text","align":"left","baseline":"top","color":"#000000","fontSize":7.5,"dy":1},
    "encoding":{"x":{"datum":154.5,"type":"quantitative","scale":{"domain":[-0.25,153.5],"nice":false,"zero":false}},
     "y":{"field":"v","type":"quantitative","scale":{"domain":[-0.004269,0.001269],"nice":false,"zero":false}},
     "text":{"field":"v","type":"quantitative","format":".6f"}}},
   {"data":{"name":"mlab"},"transform":[{"filter":"datum.v < 0"}],"mark":{"type":"text","align":"left","baseline":"bottom","color":"#000000","fontSize":7.5,"dy":-1},
    "encoding":{"x":{"datum":154.5,"type":"quantitative","scale":{"domain":[-0.25,153.5],"nice":false,"zero":false}},
     "y":{"field":"v","type":"quantitative","scale":{"domain":[-0.004269,0.001269],"nice":false,"zero":false}},
     "text":{"field":"v","type":"quantitative","format":".6f"}}},
   {"data":{"name":"mlab"},"transform":[{"filter":"datum.v == 0"}],"mark":{"type":"text","align":"left","baseline":"middle","color":"#000000","fontSize":7.5},
    "encoding":{"x":{"datum":154.5,"type":"quantitative","scale":{"domain":[-0.25,153.5],"nice":false,"zero":false}},
     "y":{"field":"v","type":"quantitative","scale":{"domain":[-0.004269,0.001269],"nice":false,"zero":false}},
     "text":{"value":"0.00"}}},
   {"data":{"values":[{}]},"mark":{"type":"text","align":"left","baseline":"middle","color":"#000000","fontSize":8.5},
    "encoding":{"x":{"datum":1,"type":"quantitative","scale":{"domain":[-0.25,153.5],"nice":false,"zero":false}},
     "y":{"datum":0.0008,"type":"quantitative","scale":{"domain":[-0.004269,0.001269],"nice":false,"zero":false}},
     "text":{"value":"MACD(12,26,9) 0.000768 0.000908"}}}
  ]
 }
]
}
